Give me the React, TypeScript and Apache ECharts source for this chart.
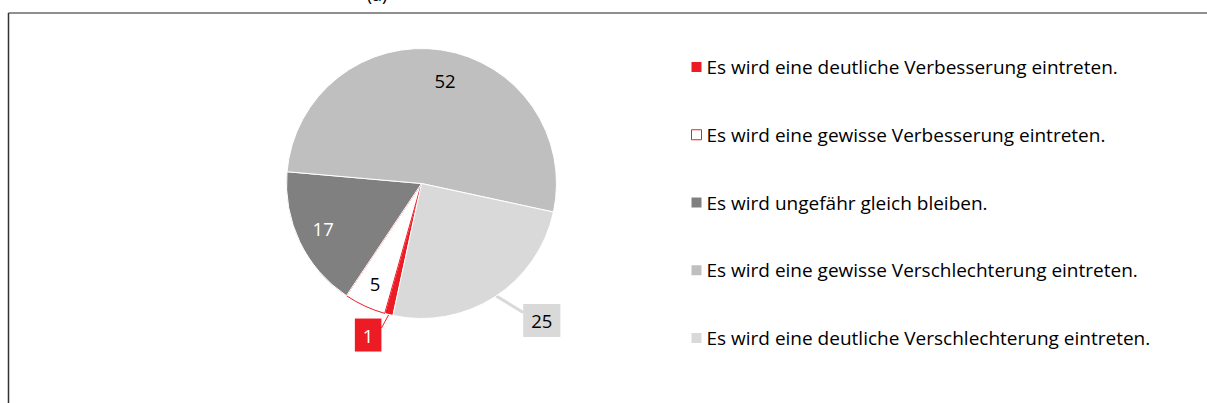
import { useEffect, useRef } from "react";
import * as echarts from "echarts";

const categories = [
  "Es wird eine deutliche Verbesserung eintreten.",
  "Es wird eine gewisse Verbesserung eintreten.",
  "Es wird ungefähr gleich bleiben.",
  "Es wird eine gewisse Verschlechterung eintreten.",
  "Es wird eine deutliche Verschlechterung eintreten.",
];
const values = [1, 5, 17, 52, 25];
const colors = ["#ED1C24", "#FFFFFF", "#808080", "#BFBFBF", "#D9D9D9"];
const panelTitle = "(a)";

const FONT = '"Open Sans", "Noto Sans", sans-serif';
const CX = 421.5;
const CY = 183.5;
const R = 135;
// label placement: polar angle (deg, math convention) and radius ratio
const labelPolar: number[][] = [
  [250.6, 1.19],
  [245.2, 0.82],
  [204.4, 0.8],
  [77.1, 0.78],
  [311.3, 1.35],
];
// callout anchor on the pie rim (deg) for outside labels
const calloutAngle: Record<number, number> = { 0: 256, 4: -56.4 };

export default function App() {
  const ref = useRef<HTMLDivElement>(null);
  useEffect(() => {
    if (!ref.current) return;
    const chart = echarts.init(ref.current, undefined, { renderer: "svg" });
    const data = values.map((v, i) => {
      const item: any = {
        value: v,
        name: categories[i],
        itemStyle: {
          color: colors[i],
          borderColor: i === 1 ? "#ED1C24" : "#FFFFFF",
          borderWidth: 1,
        },
      };
      if (i === 0) {
        item.label = {
          position: "outside",
          backgroundColor: "#ED1C24",
          color: "#FFFFFF",
          padding: [7, 8],
        };
        item.labelLine = {
          show: true,
          length: 8,
          length2: 4,
          lineStyle: { color: "#ED1C24", width: 1 },
        };
      } else if (i === 4) {
        item.label = {
          position: "outside",
          backgroundColor: "#D9D9D9",
          color: "#000000",
          padding: [7, 8],
        };
        item.labelLine = {
          show: true,
          length: 10,
          length2: 6,
          lineStyle: { color: "#D9D9D9", width: 3 },
        };
      } else if (i === 2) {
        item.label = { color: "#FFFFFF" };
      }
      return item;
    });
    chart.setOption({
      animation: false,
      backgroundColor: "#FFFFFF",
      legend: {
        orient: "vertical",
        left: 691,
        top: 57,
        padding: 0,
        itemWidth: 10,
        itemHeight: 10,
        itemGap: 47.75,
        icon: "rect",
        selectedMode: false,
        itemStyle: { borderWidth: 0 },
        textStyle: {
          fontFamily: FONT,
          fontSize: 19,
          color: "#000000",
          lineHeight: 20,
        },
        data: categories.map((n, i) =>
          i === 1
            ? { name: n, itemStyle: { borderColor: "#ED1C24", borderWidth: 1 } }
            : { name: n }
        ),
      },
      graphic: [
        {
          type: "line",
          shape: { x1: 8.5, y1: 13, x2: 1207, y2: 13 },
          style: { stroke: "#6A6A6A", lineWidth: 1.5 },
        },
        {
          type: "line",
          shape: { x1: 8.5, y1: 13, x2: 8.5, y2: 403 },
          style: { stroke: "#333333", lineWidth: 1.5 },
        },
        {
          type: "text",
          x: 377,
          y: 3,
          style: {
            text: panelTitle,
            font: '18px "Open Sans", sans-serif',
            fill: "#000000",
            align: "center",
            verticalAlign: "bottom",
          },
        },
      ],
      series: [
        {
          type: "pie",
          center: [CX, CY],
          radius: R,
          startAngle: 257.8,
          clockwise: true,
          avoidLabelOverlap: false,
          emphasis: { disabled: true },
          label: {
            show: true,
            position: "inside",
            formatter: "{c}",
            fontFamily: FONT,
            fontSize: 18.5,
            color: "#000000",
          },
          labelLine: { show: false },
          labelLayout: (params: any) => {
            const idx = params.dataIndex;
            const p = labelPolar[idx];
            const rad = (p[0] * Math.PI) / 180;
            const x = CX + p[1] * R * Math.cos(rad);
            const y = CY - p[1] * R * Math.sin(rad);
            const out: any = { x, y, align: "center", verticalAlign: "middle" };
            if (calloutAngle[idx] !== undefined) {
              const a = (calloutAngle[idx] * Math.PI) / 180;
              const sx = CX + R * Math.cos(a);
              const sy = CY - R * Math.sin(a);
              const w = params.labelRect.width;
              const ex = idx === 4 ? x - w / 2 : x + w / 2;
              const ey = idx === 4 ? y - 8 : y - 7;
              out.labelLinePoints = [
                [sx, sy],
                [(sx + ex) / 2, (sy + ey) / 2],
                [ex, ey],
              ];
            }
            return out;
          },
          data,
        },
      ],
    });
    return () => chart.dispose();
  }, []);
  return (
    <div
      ref={ref}
      style={{
        position: "fixed",
        left: 0,
        top: 0,
        width: 1207,
        height: 403,
        background: "#FFFFFF",
      }}
    />
  );
}
